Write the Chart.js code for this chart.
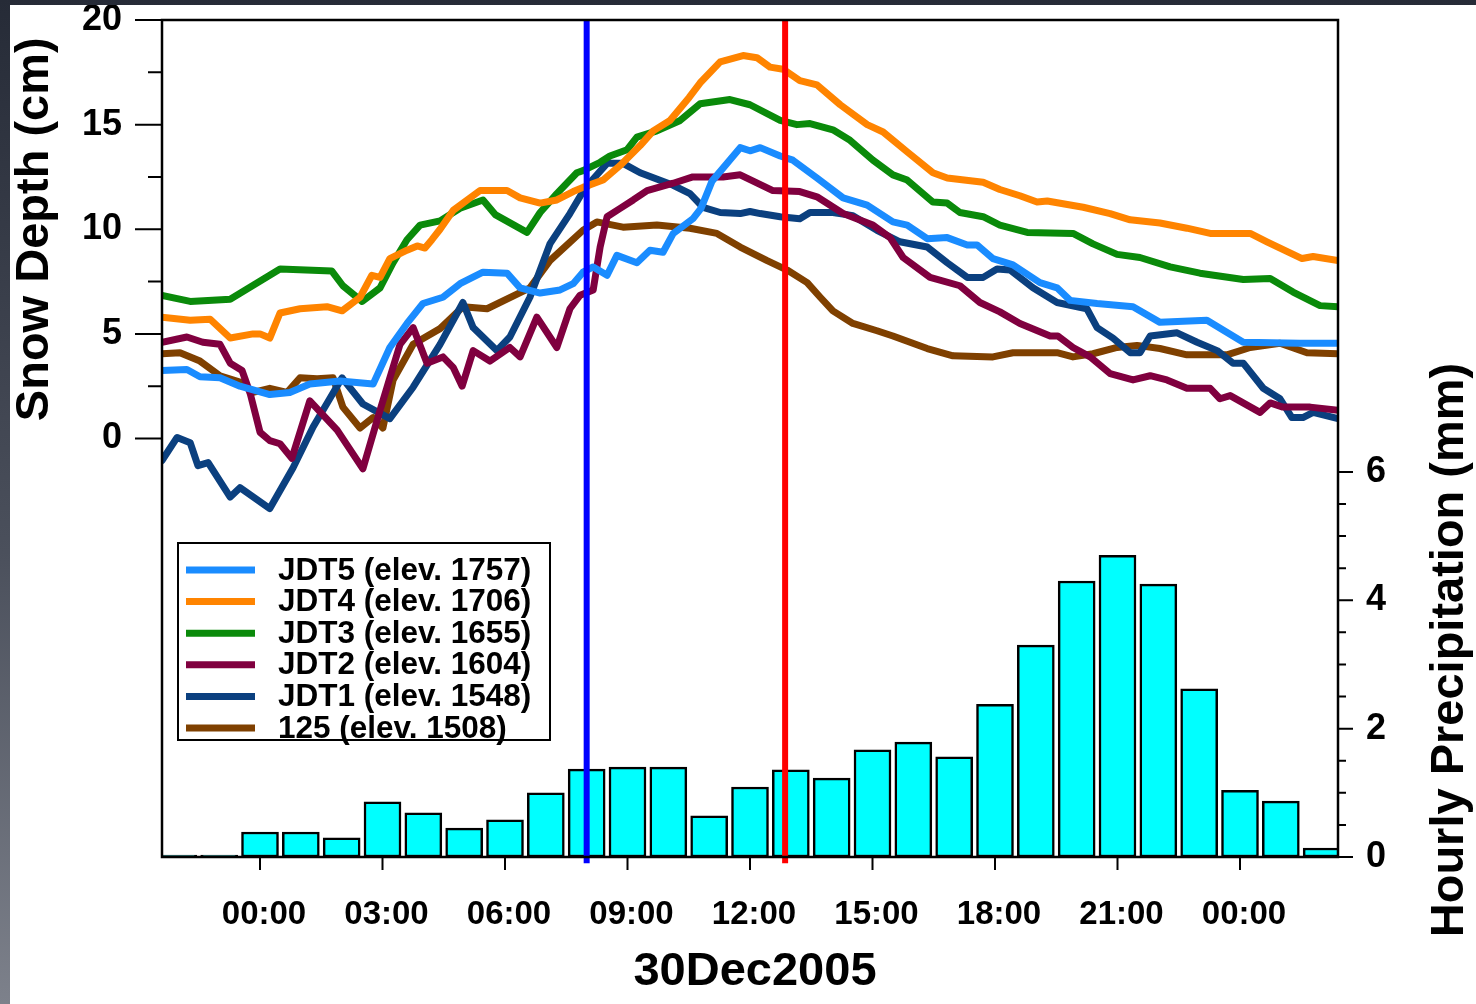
<!DOCTYPE html>
<html>
<head>
<meta charset="utf-8">
<title>Snow depth and hourly precipitation, 30 Dec 2005</title>
<script src="https://cdn.jsdelivr.net/npm/chart.js@4.4.1/dist/chart.umd.min.js"></script>
<style>
html, body { margin: 0; padding: 0; width: 1476px; height: 1004px; overflow: hidden;
  background: linear-gradient(to bottom, #262b37 0%, #4b505c 55%, #7d818b 100%); }
#wrap { position: absolute; left: 10px; top: 5px; width: 1466px; height: 999px; background: #fff; }
</style>
</head>
<body>
<div id="wrap"><canvas id="chart"></canvas></div>
<script>
var FONT = "'Liberation Sans', Arial, Helvetica, sans-serif";

// time axis: hours after 00:00 on 30 Dec 2005
var xMin = -2.4, xMax = 26.4;
var hourTicks = [0, 3, 6, 9, 12, 15, 18, 21, 24];
var hourLabels = ['00:00', '03:00', '06:00', '09:00', '12:00', '15:00', '18:00', '21:00', '00:00'];

var depthTicks = [0, 5, 10, 15, 20];
var depthMinor = [2.5, 7.5, 12.5, 17.5];
var precipTicks = [0, 2, 4, 6];
var precipMinor = [0.5, 1, 1.5, 2.5, 3, 3.5, 4.5, 5, 5.5];

var seriesNames = ['JDT5 (elev. 1757)', 'JDT4 (elev. 1706)', 'JDT3 (elev. 1655)',
                   'JDT2 (elev. 1604)', 'JDT1 (elev. 1548)', '125 (elev. 1508)'];
var seriesColors = ['#1a8cff', '#ff8400', '#0a8a0a', '#80003f', '#0b407f', '#7f4000'];

var hoursJDT5 = [-2.40,-1.79,-1.47,-0.98,-0.49,0.24,0.73,1.22,1.96,2.77,3.18,3.60,3.99,4.48,4.90,5.46,6.05,6.37,6.86,7.35,7.67,7.91,8.16,8.50,8.74,9.23,9.55,9.87,10.12,10.60,10.80,11.07,11.76,12.00,12.25,12.74,13.05,13.64,14.28,14.87,15.50,15.85,16.34,16.83,17.32,17.56,17.95,18.44,19.10,19.52,19.84,20.50,21.38,22.04,23.19,24.08,25.47,26.40];
var depthJDT5 = [3.25,3.3,2.95,2.9,2.5,2.1,2.2,2.6,2.75,2.6,4.35,5.5,6.45,6.75,7.4,7.95,7.9,7.2,6.95,7.1,7.4,7.95,8.2,7.8,8.75,8.4,9.0,8.9,9.8,10.5,11.0,12.3,13.9,13.75,13.9,13.5,13.3,12.45,11.5,11.15,10.35,10.2,9.55,9.6,9.25,9.25,8.6,8.3,7.45,7.2,6.6,6.45,6.3,5.55,5.65,4.6,4.55,4.55];

var hoursJDT4 = [-2.40,-1.71,-1.22,-0.73,-0.17,0,0.24,0.49,0.98,1.64,2.01,2.45,2.74,2.94,3.18,3.60,3.85,4.04,4.21,4.41,4.73,5.39,6.05,6.37,6.86,7.27,7.67,7.91,8.40,8.82,9.31,9.63,10.04,10.51,10.78,11.27,11.83,12.17,12.49,12.81,13.22,13.64,14.21,14.87,15.26,15.85,16.48,16.83,17.71,18.12,18.61,19.03,19.28,20.16,20.82,21.31,22.04,22.70,23.27,24.25,24.66,25.52,25.79,26.40];
var depthJDT4 = [5.8,5.65,5.7,4.8,5.0,5.0,4.8,6.0,6.2,6.3,6.1,6.75,7.8,7.7,8.6,9.0,9.2,9.1,9.5,10.0,10.9,11.85,11.85,11.5,11.25,11.4,11.8,12.0,12.35,13.05,14.0,14.7,15.2,16.3,17.0,18.0,18.3,18.2,17.75,17.65,17.1,16.9,15.95,15.0,14.65,13.7,12.7,12.45,12.25,11.9,11.6,11.3,11.35,11.05,10.75,10.45,10.3,10.05,9.8,9.8,9.4,8.6,8.7,8.5];

var hoursJDT3 = [-2.40,-1.71,-0.73,0.49,1.76,2.03,2.50,2.94,3.26,3.60,3.92,4.41,4.90,5.46,5.76,6.54,6.86,7.27,7.76,7.91,8.33,8.57,8.99,9.23,9.72,10.29,10.78,11.51,12.00,12.74,13.15,13.47,14.03,14.45,15.01,15.50,15.85,16.48,16.83,17.14,17.71,18.12,18.79,19.91,20.40,20.99,21.55,22.29,23.02,24.08,24.74,25.30,25.96,26.40];
var depthJDT3 = [6.84,6.55,6.65,8.1,8.0,7.3,6.55,7.2,8.4,9.5,10.2,10.4,11.0,11.4,10.7,9.85,10.8,11.7,12.7,12.8,13.2,13.5,13.8,14.4,14.7,15.2,16.0,16.2,15.95,15.2,15.0,15.05,14.75,14.25,13.3,12.6,12.35,11.3,11.25,10.8,10.6,10.2,9.85,9.8,9.3,8.8,8.65,8.2,7.9,7.6,7.65,7.0,6.35,6.3];

var hoursJDT2 = [-2.40,-1.79,-1.40,-0.98,-0.73,-0.44,-0.24,0,0.24,0.49,0.78,1.22,1.89,2.52,2.94,3.43,3.75,4.09,4.48,4.73,4.95,5.22,5.63,6.12,6.37,6.78,7.27,7.59,7.84,8.16,8.33,8.50,8.82,9.14,9.48,10.12,10.60,11.34,11.76,12.56,13.22,13.64,14.28,15.01,15.43,15.75,16.41,17.14,17.63,18.12,18.61,19.35,19.54,19.91,20.33,20.82,21.38,21.80,22.21,22.70,23.27,23.51,23.76,24.49,24.74,25.05,25.72,26.40];
var depthJDT2 = [4.6,4.85,4.6,4.5,3.6,3.25,2.15,0.3,-0.1,-0.25,-0.95,1.8,0.4,-1.45,1.35,4.5,5.3,3.6,3.9,3.4,2.5,4.2,3.7,4.35,3.9,5.8,4.35,6.2,6.85,7.1,9.15,10.6,11.0,11.4,11.85,12.2,12.5,12.5,12.6,11.85,11.8,11.55,10.75,10.2,9.6,8.65,7.7,7.3,6.5,6.05,5.5,4.9,4.9,4.35,3.9,3.1,2.8,3.0,2.8,2.4,2.4,1.9,2.05,1.25,1.7,1.5,1.5,1.35];

var hoursJDT1 = [-2.40,-2.03,-1.71,-1.52,-1.27,-0.73,-0.49,0.24,0.81,1.30,2.01,2.52,3.18,3.75,4.41,4.97,5.22,5.80,6.12,6.61,7.10,7.59,7.91,8.16,8.50,8.89,9.31,10.12,10.53,10.85,11.27,11.76,12.00,12.25,12.74,13.22,13.47,14.03,14.52,15.11,15.67,16.34,16.83,17.32,17.71,18.05,18.37,18.93,19.52,20.25,20.50,20.89,21.31,21.55,21.80,22.46,22.95,23.44,23.83,24.08,24.57,24.98,25.27,25.54,25.79,26.40];
var depthJDT1 = [-1.05,0.05,-0.2,-1.3,-1.15,-2.8,-2.35,-3.35,-1.4,0.55,2.9,1.65,0.95,2.45,4.5,6.5,5.3,4.2,4.85,6.75,9.3,10.75,11.8,12.4,13.15,13.15,12.7,12.1,11.7,11.05,10.8,10.75,10.85,10.75,10.6,10.5,10.8,10.8,10.65,9.95,9.4,9.15,8.4,7.7,7.7,8.1,8.05,7.2,6.5,6.2,5.3,4.8,4.1,4.1,4.9,5.05,4.6,4.2,3.6,3.6,2.4,1.9,1.0,1.0,1.25,0.95];

var hours125 = [-2.40,-1.96,-1.47,-0.98,-0.49,-0.17,0.24,0.66,0.98,1.40,1.79,2.03,2.45,2.77,3.01,3.26,3.75,4.41,4.97,5.56,6.61,7.10,7.52,7.91,8.25,8.89,9.72,10.53,11.19,11.76,12.42,12.91,13.40,13.72,14.03,14.52,15.11,15.50,16.34,16.97,17.95,18.44,19.52,19.91,20.40,20.99,21.48,22.04,22.70,23.68,24.25,24.98,25.64,26.40];
var depth125 = [4.05,4.1,3.7,3.0,2.7,2.2,2.4,2.2,2.9,2.85,2.9,1.5,0.5,1.0,0.5,2.8,4.5,5.25,6.3,6.2,7.2,8.5,9.25,9.95,10.35,10.1,10.2,10.05,9.8,9.15,8.5,8.05,7.45,6.75,6.1,5.5,5.15,4.9,4.3,3.95,3.9,4.1,4.1,3.9,4.05,4.35,4.45,4.3,4.0,4.0,4.35,4.55,4.1,4.05];

// hourly precipitation (mm), one bar per hour
var precipHours = [-2,-1,0,1,2,3,4,5,6,7,8,9,10,11,12,13,14,15,16,17,18,19,20,21,22,23,24,25,26];
var precip = [0.03,0.03,0.39,0.39,0.30,0.86,0.69,0.45,0.58,1.0,1.37,1.40,1.40,0.64,1.09,1.36,1.23,1.67,1.79,1.56,2.38,3.30,4.30,4.70,4.25,2.62,1.04,0.87,0.14];

// vertical markers
var markerHours = [8.0, 12.86];
var markerColors = ['#0000ff', '#ff0000'];

var seriesHours = [hoursJDT5, hoursJDT4, hoursJDT3, hoursJDT2, hoursJDT1, hours125];
var seriesDepth = [depthJDT5, depthJDT4, depthJDT3, depthJDT2, depthJDT1, depth125];

function pts(hours, vals) {
    return hours.map(function (h, i) { return {x: h, y: vals[i]}; });
}

var datasets = [];
for (var i = 0; i < seriesNames.length; i++) {
    datasets.push({
        type: 'line',
        label: seriesNames[i],
        data: pts(seriesHours[i], seriesDepth[i]),
        yAxisID: 'y',
        borderColor: seriesColors[i],
        borderWidth: 7,
        pointRadius: 0,
        tension: 0,
        fill: false,
        borderJoinStyle: 'round',
        borderCapStyle: 'round',
        order: 2
    });
}
markerHours.forEach(function (h, i) {
    datasets.push({
        type: 'line',
        label: 'marker' + i,
        data: [{x: h, y: -20.3}, {x: h, y: 20}],
        yAxisID: 'y',
        borderColor: markerColors[i],
        borderWidth: 6,
        pointRadius: 0,
        clip: false,
        order: 1
    });
});
datasets.push({
    type: 'bar',
    label: 'Hourly Precipitation',
    data: pts(precipHours, precip),
    yAxisID: 'y2',
    backgroundColor: '#00ffff',
    borderColor: '#000',
    borderWidth: 2.5,
    borderSkipped: false,
    barThickness: 37,
    order: 3
});

function noPad(scale) {
    scale.paddingTop = 0;
    scale.paddingBottom = 0;
    scale.paddingLeft = 0;
    scale.paddingRight = 0;
}

// frame, tick marks, legend box and axis titles
var decor = {
    id: 'decor',
    afterDatasetsDraw: function (chart) {
        var ctx = chart.ctx, a = chart.chartArea, s = chart.scales;
        ctx.save();
        ctx.strokeStyle = '#000';
        ctx.lineWidth = 2;
        ctx.beginPath();
        depthTicks.forEach(function (v) { var y = s.y.getPixelForValue(v); ctx.moveTo(a.left - 27, y); ctx.lineTo(a.left, y); });
        depthMinor.forEach(function (v) { var y = s.y.getPixelForValue(v); ctx.moveTo(a.left - 14, y); ctx.lineTo(a.left, y); });
        precipTicks.forEach(function (v) { var y = s.y2.getPixelForValue(v); ctx.moveTo(a.right, y); ctx.lineTo(a.right + 15, y); });
        precipMinor.forEach(function (v) { var y = s.y2.getPixelForValue(v); ctx.moveTo(a.right, y); ctx.lineTo(a.right + 8, y); });
        hourTicks.forEach(function (v) { var x = s.x.getPixelForValue(v); ctx.moveTo(x, a.bottom); ctx.lineTo(x, a.bottom + 13); });
        ctx.stroke();
        ctx.lineWidth = 2.5;
        ctx.strokeRect(a.left, a.top, a.right - a.left, a.bottom - a.top);

        // legend
        var bx = a.left + 16, by = a.bottom - 314, bw = 372, bh = 197;
        ctx.fillStyle = '#fff';
        ctx.fillRect(bx, by, bw, bh);
        ctx.lineWidth = 2;
        ctx.strokeRect(bx, by, bw, bh);
        ctx.font = 'bold 31.5px ' + FONT;
        ctx.textBaseline = 'middle';
        ctx.textAlign = 'left';
        for (var i = 0; i < seriesNames.length; i++) {
            var ly = by + 27 + i * 31.6;
            ctx.strokeStyle = seriesColors[i];
            ctx.lineWidth = 7;
            ctx.beginPath();
            ctx.moveTo(bx + 8, ly);
            ctx.lineTo(bx + 77, ly);
            ctx.stroke();
            ctx.fillStyle = '#000';
            ctx.fillText(seriesNames[i], bx + 100, ly + 1);
        }
        ctx.restore();
    },
    afterDraw: function (chart) {
        var ctx = chart.ctx, a = chart.chartArea, s = chart.scales;
        ctx.save();
        ctx.fillStyle = '#000';
        ctx.font = 'bold 47px ' + FONT;
        ctx.textAlign = 'center';
        ctx.textBaseline = 'middle';
        ctx.translate(a.left - 127, s.y.getPixelForValue(10));
        ctx.rotate(-Math.PI / 2);
        ctx.fillText('Snow Depth (cm)', 0, 0);
        ctx.restore();

        ctx.save();
        ctx.fillStyle = '#000';
        ctx.font = 'bold 47px ' + FONT;
        ctx.textAlign = 'center';
        ctx.textBaseline = 'middle';
        ctx.translate(a.right + 112, a.bottom - 207);
        ctx.rotate(-Math.PI / 2);
        ctx.fillText('Hourly Precipitation (mm)', 0, 0);
        ctx.restore();

        ctx.save();
        ctx.fillStyle = '#000';
        ctx.font = 'bold 47px ' + FONT;
        ctx.textAlign = 'center';
        ctx.textBaseline = 'middle';
        ctx.fillText('30Dec2005', (a.left + a.right) / 2 + 5, a.bottom + 115);
        ctx.restore();
    }
};

var ctx = document.getElementById('chart').getContext('2d');
var chart = new Chart(ctx, {
    type: 'line',
    data: {datasets: datasets},
    options: {
        responsive: true,
        maintainAspectRatio: false,
        animation: false,
        events: [],
        layout: {padding: {top: 15}},
        plugins: {legend: {display: false}, tooltip: {enabled: false}},
        scales: {
            x: {
                type: 'linear',
                min: xMin,
                max: xMax,
                offset: false,
                grid: {display: false, drawTicks: false},
                border: {display: false},
                afterFit: function (scale) { scale.height = 147; noPad(scale); },
                afterBuildTicks: function (scale) {
                    scale.ticks = hourTicks.map(function (v) { return {value: v}; });
                },
                ticks: {
                    autoSkip: false,
                    maxRotation: 0,
                    padding: 38,
                    labelOffset: 4,
                    color: '#000',
                    font: {family: FONT, size: 33, weight: 'bold'},
                    callback: function (v) { return hourLabels[hourTicks.indexOf(v)]; }
                }
            },
            y: {
                position: 'left',
                min: -20,
                max: 20,
                grid: {display: false, drawTicks: false},
                border: {display: false},
                afterFit: function (scale) { scale.width = 152; noPad(scale); },
                afterBuildTicks: function (scale) {
                    scale.ticks = depthTicks.map(function (v) { return {value: v}; });
                },
                ticks: {
                    padding: 40,
                    color: '#000',
                    font: {family: FONT, size: 36, weight: 'bold'}
                }
            },
            y2: {
                position: 'right',
                min: 0,
                max: 13.04,
                grid: {display: false, drawTicks: false},
                border: {display: false},
                afterFit: function (scale) { scale.width = 138; noPad(scale); },
                afterBuildTicks: function (scale) {
                    scale.ticks = precipTicks.map(function (v) { return {value: v}; });
                },
                ticks: {
                    padding: 28,
                    color: '#000',
                    font: {family: FONT, size: 36, weight: 'bold'}
                }
            }
        }
    },
    plugins: [decor]
});
</script>
</body>
</html>
